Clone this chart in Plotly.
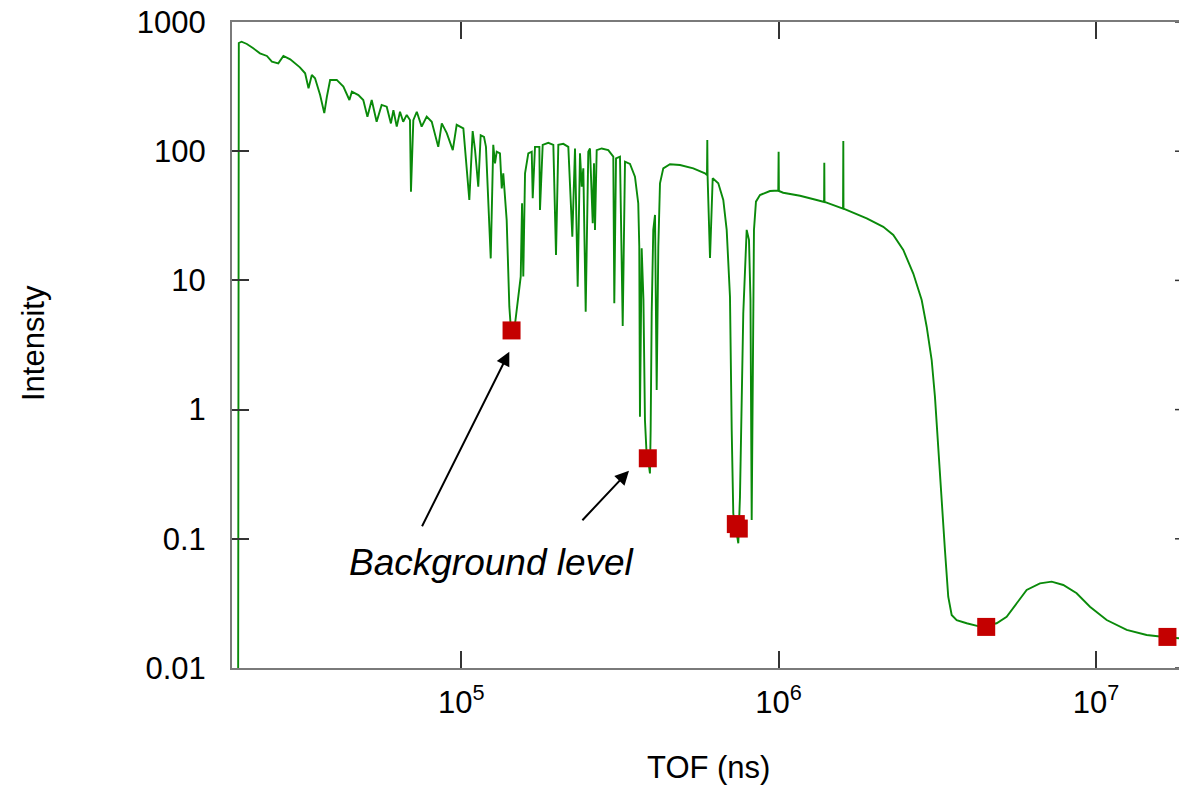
import math
import plotly.graph_objects as go

# ---- data ----
tof_ns = [
    1.98e4, 1.99e4, 2.03e4, 2.11e4, 2.21e4, 2.32e4, 2.44e4, 2.53e4, 2.65e4, 2.75e4,
    2.89e4, 3.10e4, 3.22e4, 3.30e4, 3.38e4, 3.46e4, 3.59e4, 3.70e4, 3.77e4, 3.86e4,
    4.05e4, 4.25e4, 4.44e4, 4.52e4, 4.74e4, 4.91e4, 5.06e4, 5.22e4, 5.41e4, 5.61e4,
    5.82e4, 6.00e4, 6.11e4, 6.26e4, 6.41e4, 6.56e4, 6.73e4, 6.89e4, 6.94e4, 7.06e4,
    7.24e4, 7.50e4, 7.78e4, 8.07e4, 8.46e4, 8.68e4, 9.00e4, 9.40e4, 9.67e4, 1.015e5,
    1.060e5, 1.086e5, 1.105e5, 1.131e5, 1.151e5, 1.179e5, 1.196e5, 1.238e5, 1.261e5, 1.277e5,
    1.293e5, 1.324e5, 1.341e5, 1.356e5, 1.390e5, 1.417e5, 1.434e5, 1.458e5, 1.482e5, 1.512e5,
    1.539e5, 1.554e5, 1.568e5, 1.588e5, 1.626e5, 1.667e5, 1.679e5, 1.707e5, 1.762e5, 1.770e5,
    1.805e5, 1.880e5, 1.950e5, 1.988e5, 2.022e5, 2.096e5, 2.174e5, 2.238e5, 2.282e5, 2.327e5,
    2.366e5, 2.396e5, 2.424e5, 2.466e5, 2.513e5, 2.544e5, 2.595e5, 2.619e5, 2.638e5, 2.671e5,
    2.770e5, 2.905e5, 3.013e5, 3.035e5, 3.073e5, 3.163e5, 3.226e5, 3.280e5, 3.401e5, 3.526e5,
    3.611e5, 3.638e5, 3.656e5, 3.702e5, 3.750e5, 3.791e5, 3.838e5, 3.889e5, 3.931e5, 3.951e5,
    3.981e5, 4.027e5, 4.078e5, 4.128e5, 4.177e5, 4.228e5, 4.330e5, 4.546e5, 4.888e5, 5.384e5,
    5.860e5, 5.946e5, 5.960e5, 5.972e5, 6.078e5, 6.198e5, 6.454e5, 6.693e5, 6.860e5, 7.026e5,
    7.114e5, 7.196e5, 7.286e5, 7.393e5, 7.463e5, 7.555e5, 7.738e5, 7.931e5, 8.065e5, 8.153e5,
    8.225e5, 8.303e5, 8.362e5, 8.484e5, 8.734e5, 9.391e5, 9.975e5, 1.000e6, 1.002e6, 1.034e6,
    1.168e6, 1.318e6, 1.391e6, 1.393e6, 1.395e6, 1.596e6, 1.599e6, 1.601e6, 1.895e6, 2.137e6,
    2.298e6, 2.471e6, 2.657e6, 2.824e6, 2.928e6, 3.036e6, 3.109e6, 3.185e6, 3.264e6, 3.343e6,
    3.424e6, 3.510e6, 3.640e6, 3.914e6, 4.310e6, 4.865e6, 5.231e6, 5.625e6, 6.048e6, 6.661e6,
    7.251e6, 7.889e6, 8.694e6, 9.574e6, 1.081e7, 1.250e7, 1.445e7, 1.670e7, 1.827e7,
]
intensity = [
    0.005, 688, 704, 676, 626, 572, 546, 493, 479, 546,
    514, 446, 401, 307, 389, 367, 272, 197, 264, 356,
    356, 316, 249, 289, 272, 249, 185, 249, 169, 228,
    221, 164, 208, 155, 202, 169, 191, 174, 48.6, 174,
    202, 155, 185, 169, 108, 164, 138, 102, 160, 150,
    41.9, 143, 102, 53.1, 133, 129, 108, 14.8, 112, 80.6,
    99.1, 96.3, 51.6, 67.4, 29.3, 6.26, 4.13, 3.71, 4.94, 7.95,
    10.7, 39.5, 10.7, 67.4, 96.3, 99.1, 43.2, 108, 108, 35.1,
    112, 116, 112, 15.7, 112, 114, 108, 21.8, 105, 8.94,
    96.3, 53.1, 73.7, 5.72, 99.1, 105, 27.7, 80.6, 24.6, 102,
    105, 102, 90.7, 6.65, 88.1, 90.7, 4.44, 82.9, 79.6, 63.5,
    39.5, 18.2, 0.881, 17.7, 7.05, 0.831, 0.445, 0.393, 0.321, 0.695,
    5.57, 24.6, 32.1, 1.42, 18.2, 56.4, 73.7, 79.2, 78.2, 73.7,
    67.4, 65.4, 122, 64.3, 14.9, 61.7, 56.4, 41.9, 24.6, 7.48,
    0.695, 0.1575, 0.121, 0.107, 0.0923, 0.212, 5.57, 24.6, 20.6, 7.05,
    0.1398, 7.05, 24.6, 40.7, 45.8, 49.2, 49.6, 99.1, 49.2, 47.7,
    45.2, 41.9, 40.5, 81.5, 40.5, 36.0, 120, 36.0, 30.2, 26.0,
    22.5, 17.2, 11.3, 7.05, 4.38, 2.42, 1.26, 0.487, 0.1997, 0.0819,
    0.0356, 0.0257, 0.0235, 0.0222, 0.0209, 0.0222, 0.0249, 0.0317, 0.0402, 0.0452,
    0.0466, 0.0439, 0.0379, 0.0298, 0.0235, 0.0197, 0.0180, 0.0173, 0.0170,
]

background_tof = [1.44e5, 3.87e5, 7.33e5, 7.49e5, 4.51e6, 1.68e7]
background_int = [4.1, 0.42, 0.13, 0.12, 0.0208, 0.0174]

y_tick_vals = [0.01, 0.1, 1, 10, 100, 1000]
y_tick_text = ["0.01", "0.1", "1", "10", "100", "1000"]
x_tick_vals = [1e5, 1e6, 1e7]
x_tick_text = ["10<sup>5</sup>", "10<sup>6</sup>", "10<sup>7</sup>"]

FONT = "Liberation Sans, Arial, Helvetica, sans-serif"
FS = 31

fig = go.Figure()
fig.add_trace(go.Scatter(
    x=tof_ns, y=intensity, mode="lines",
    line=dict(color="#0a8a0a", width=1.9),
    showlegend=False, hoverinfo="skip",
))
fig.add_trace(go.Scatter(
    x=background_tof, y=background_int, mode="markers",
    marker=dict(symbol="square", size=18, color="#c40000", line=dict(width=0)),
    showlegend=False,
))

W, H = 1179, 786
L, R, T, B = 232, 0, 22, 118

fig.update_layout(
    width=W, height=H,
    margin=dict(l=L, r=R, t=T, b=B, pad=0),
    paper_bgcolor="white", plot_bgcolor="white",
    font=dict(family=FONT, size=FS, color="black"),
    xaxis=dict(
        type="log", range=[math.log10(1.894e4), math.log10(1.827e7)],
        showgrid=False, zeroline=False,
        showline=True, linecolor="#7a7a7a", linewidth=2, mirror="ticks",
        ticks="inside", ticklen=17, tickwidth=1.5, tickcolor="#333333",
        tickvals=x_tick_vals, ticktext=x_tick_text,
        tickfont=dict(family=FONT, size=FS, color="black"),
        ticklabelstandoff=6,
    ),
    yaxis=dict(
        type="log", range=[-2, 3],
        showgrid=False, zeroline=False,
        showline=True, linecolor="#7a7a7a", linewidth=2, mirror=False,
        ticks="inside", ticklen=17, tickwidth=1.5, tickcolor="#333333",
        tickvals=y_tick_vals, ticktext=y_tick_text,
        tickfont=dict(family=FONT, size=FS, color="black"),
        ticklabelstandoff=18,
    ),
)

# right-side tick stubs (right frame lies just outside the picture)
for v in y_tick_vals:
    fig.add_shape(type="line", xref="paper", yref="y",
                  x0=(1175 - L) / (W - L - R), x1=1.0,
                  y0=v, y1=v,
                  line=dict(color="#333333", width=1.5))

# axis titles
fig.add_annotation(text="Intensity", xref="paper", yref="paper",
                   x=(33 - L) / (W - L - R), y=1 - (343 - T) / (H - T - B),
                   textangle=-90, showarrow=False, xanchor="center", yanchor="middle",
                   font=dict(family=FONT, size=FS, color="black"))
fig.add_annotation(text="TOF (ns)", xref="paper", yref="paper",
                   x=(708 - L) / (W - L - R), y=1 - (767 - T) / (H - T - B),
                   showarrow=False, xanchor="center", yanchor="middle",
                   font=dict(family=FONT, size=FS, color="black"))

# "Background level" label and arrows
fig.add_annotation(text="<i>Background level</i>", xref="x", yref="y",
                   x=5.0967, y=-1.187, showarrow=False,
                   xanchor="center", yanchor="middle",
                   font=dict(family=FONT, size=37, color="black"))
fig.add_annotation(text="", xref="x", yref="y", x=5.1513, y=0.448,
                   ax=-88, ay=176, showarrow=True, arrowhead=2, arrowsize=1.4,
                   arrowwidth=2, arrowcolor="black", standoff=0)
fig.add_annotation(text="", xref="x", yref="y", x=5.5284, y=-0.473,
                   ax=-48, ay=51, showarrow=True, arrowhead=2, arrowsize=1.4,
                   arrowwidth=2, arrowcolor="black", standoff=0)

fig.write_html("out.html")
